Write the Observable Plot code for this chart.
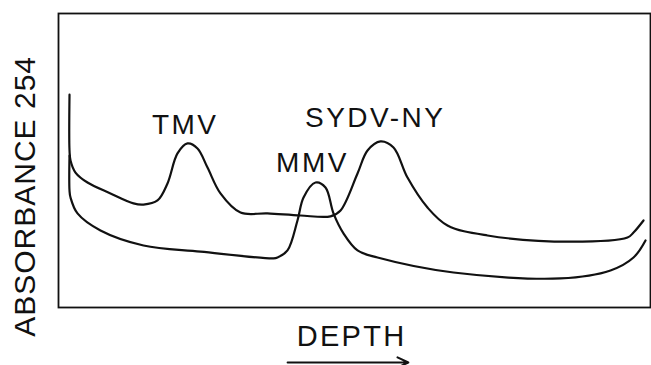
<!DOCTYPE html>
<html><head><meta charset="utf-8">
<script src="https://cdn.jsdelivr.net/npm/d3@7"></script>
<script src="https://cdn.jsdelivr.net/npm/@observablehq/plot@0.6"></script>
<style>
body{margin:0;background:#fff;}
svg{font-family:"Liberation Sans",Arial,sans-serif;}
</style></head><body><div id="chart"></div>
<script>
// Upper trace (TMV + SYDV-NY): depth (0-100), absorbance (0-100)
const upperDepth = [1.86,1.86,2.03,2.87,4.90,8.78,12.67,14.36,16.72,18.41,20.10,21.79,23.48,25.17,27.36,30.74,35.30,40.88,45.95,47.64,50.51,52.20,54.39,56.59,58.95,62.33,65.71,72.47,86.49,96.11,97.13,98.82];
const upperAbs   = [72.4,53.4,50.0,45.9,42.5,38.8,35.4,35.0,36.4,42.2,52.4,55.8,54.1,47.6,38.8,32.3,32.0,31.3,31.0,33.0,45.6,53.4,56.5,54.4,44.2,34.0,27.9,24.5,22.4,23.8,25.5,29.6];
// Lower trace (MMV)
const lowerDepth = [1.86,1.86,2.03,3.21,7.09,14.36,23.99,36.32,36.99,38.68,40.37,41.39,43.41,45.10,46.45,48.14,50.51,53.89,66.72,84.80,93.24,97.13,99.16];
const lowerAbs   = [51.7,39.8,37.4,32.0,26.2,21.1,19.0,16.7,17.0,19.4,29.6,37.4,42.5,40.8,32.0,25.2,19.4,17.0,11.9,9.9,12.6,17.0,22.8];

const peakLabels = ["TMV","SYDV-NY","MMV"];
const peakDepth  = [21.4,53.5,42.9];
const peakAbs    = [62.2,64.3,49.3];

const yLabel = "ABSORBANCE 254";
const xLabel = "DEPTH";
const arrowDepth = [38.7,59.1];

const upper = upperDepth.map((d,i)=>({depth:d, abs:upperAbs[i]}));
const lower = lowerDepth.map((d,i)=>({depth:d, abs:lowerAbs[i]}));
const peaks = peakLabels.map((t,i)=>({t, depth:peakDepth[i], abs:peakAbs[i]}));

const chart = Plot.plot({
  width: 651, height: 365,
  marginLeft: 58, marginRight: 1, marginTop: 13, marginBottom: 58,
  x: {domain:[0,100], axis:null},
  y: {domain:[0,100], axis:null},
  marks: [
    Plot.frame({stroke:"#111", strokeWidth:1.8}),
    Plot.line(upper, {x:"depth", y:"abs", curve:"catmull-rom", stroke:"#111", strokeWidth:2.2}),
    Plot.line(lower, {x:"depth", y:"abs", curve:"catmull-rom", stroke:"#111", strokeWidth:2.2}),
    Plot.text(peaks, {x:"depth", y:"abs", text:"t", fontSize:28, fill:"#111"}),
    Plot.text([yLabel], {text:d=>d, x:()=>-5.6, y:()=>37.8, rotate:-90, fontSize:30, fill:"#111"}),
    Plot.text([xLabel], {text:d=>d, x:()=>49.5, y:()=>-10, fontSize:29, fill:"#111"}),
    Plot.arrow([0], {x1:()=>arrowDepth[0], x2:()=>arrowDepth[1], y1:()=>-18.7, y2:()=>-18.7, stroke:"#111", strokeWidth:2, headLength:9, headAngle:50})
  ]
});
const textGroups = chart.querySelectorAll('g[aria-label="text"]');
const spacings = ["2.5px","1px","2.3px"];
textGroups.forEach((g,i)=>{ g.style.letterSpacing = spacings[i] || "0px"; });
document.getElementById("chart").appendChild(chart);
</script></body></html>
